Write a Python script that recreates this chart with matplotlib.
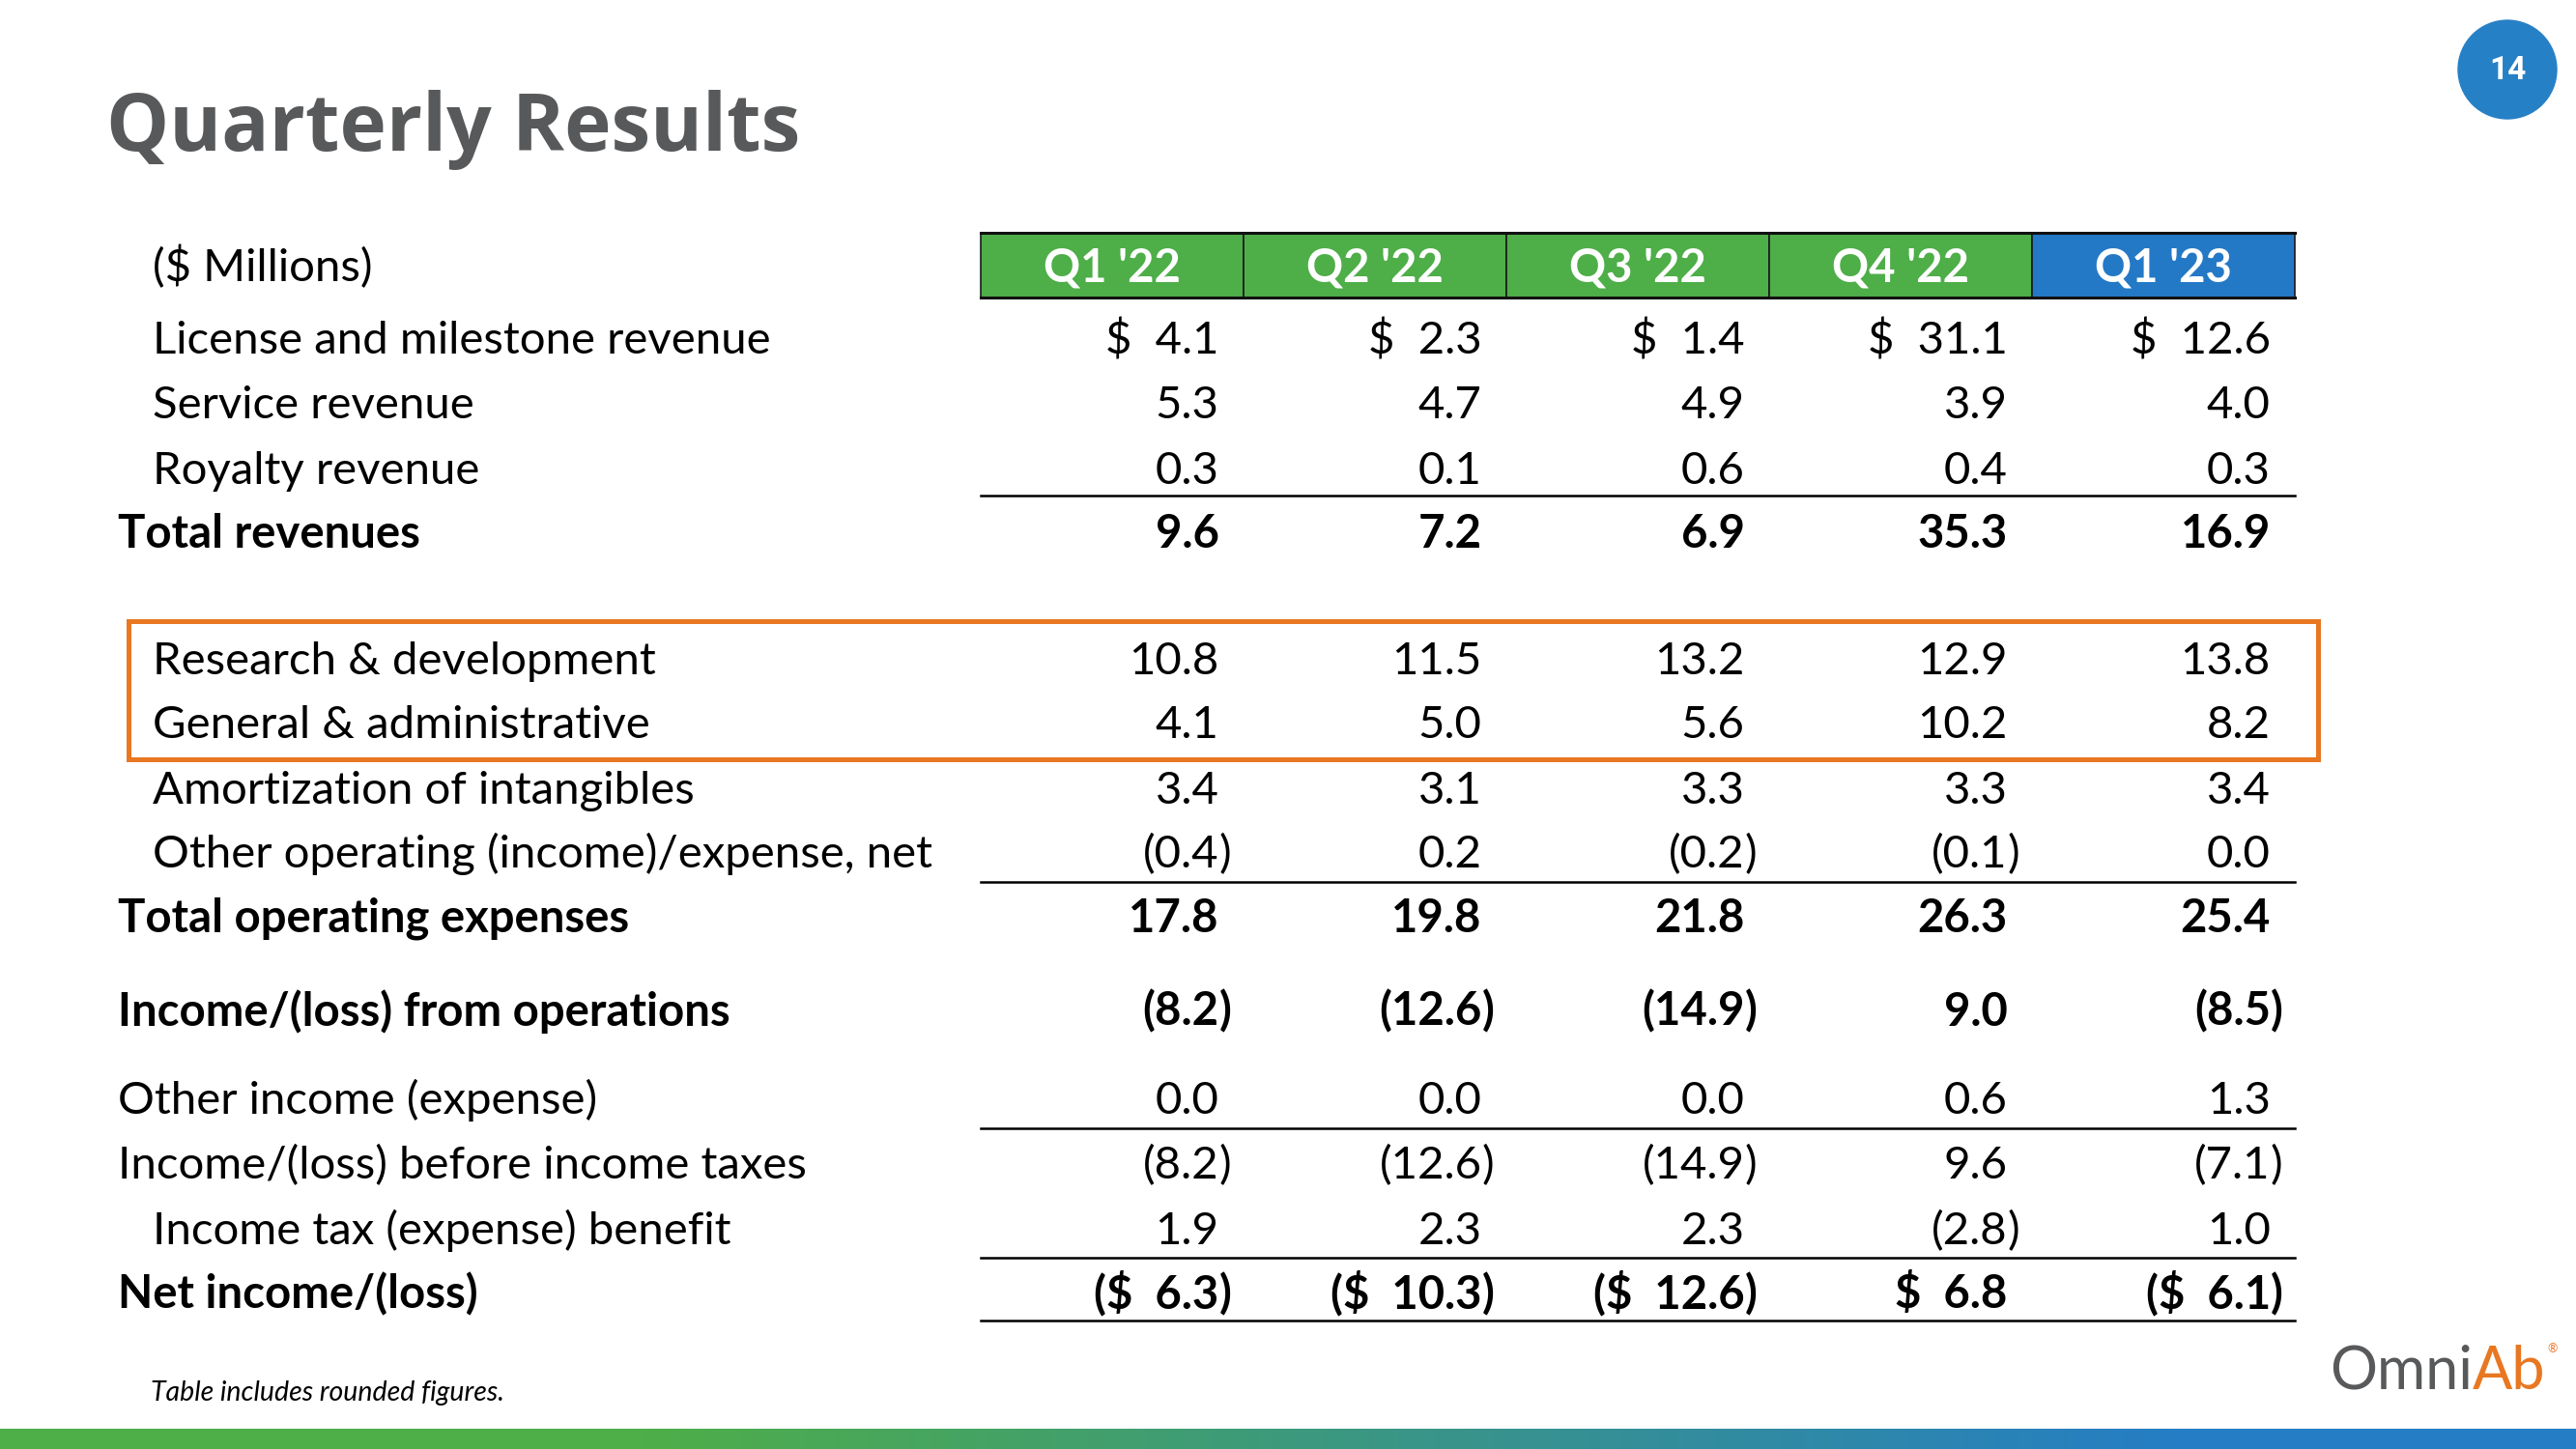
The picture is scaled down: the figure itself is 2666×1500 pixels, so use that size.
import matplotlib
matplotlib.use("Agg")
import matplotlib.pyplot as plt
from matplotlib.patches import Rectangle, Circle
import numpy as np

# ---------------- data ----------------
quarters = ["Q1 '22", "Q2 '22", "Q3 '22", "Q4 '22", "Q1 '23"]
row_labels = [
    "License and milestone revenue",
    "Service revenue",
    "Royalty revenue",
    "Total revenues",
    "Research & development",
    "General & administrative",
    "Amortization of intangibles",
    "Other operating (income)/expense, net",
    "Total operating expenses",
    "Income/(loss) from operations",
    "Other income (expense)",
    "Income/(loss) before income taxes",
    "Income tax (expense) benefit",
    "Net income/(loss)",
]
license_rev = [4.1, 2.3, 1.4, 31.1, 12.6]
service_rev = [5.3, 4.7, 4.9, 3.9, 4.0]
royalty_rev = [0.3, 0.1, 0.6, 0.4, 0.3]
total_rev = [9.6, 7.2, 6.9, 35.3, 16.9]
rnd = [10.8, 11.5, 13.2, 12.9, 13.8]
gna = [4.1, 5.0, 5.6, 10.2, 8.2]
amort = [3.4, 3.1, 3.3, 3.3, 3.4]
other_opex = [-0.4, 0.2, -0.2, -0.1, 0.0]
total_opex = [17.8, 19.8, 21.8, 26.3, 25.4]
ops_income = [-8.2, -12.6, -14.9, 9.0, -8.5]
other_income = [0.0, 0.0, 0.0, 0.6, 1.3]
pretax_income = [-8.2, -12.6, -14.9, 9.6, -7.1]
income_tax = [1.9, 2.3, 2.3, -2.8, 1.0]
net_income = [-6.3, -10.3, -12.6, 6.8, -6.1]

row_values = [license_rev, service_rev, royalty_rev, total_rev, rnd, gna, amort,
              other_opex, total_opex, ops_income, other_income, pretax_income,
              income_tax, net_income]
row_bold = [False, False, False, True, False, False, False, False, True, True,
            False, False, False, True]
row_indent = [True, True, True, False, True, True, True, True, False, False,
              False, False, True, False]
row_dollar = [True, False, False, False, False, False, False, False, False, False,
              False, False, False, True]

# ---------------- layout (pixel space) ----------------
W, H = 2666, 1500
fig = plt.figure(figsize=(W / 100, H / 100), dpi=100)
ax = fig.add_axes([0, 0, 1, 1])
ax.set_xlim(0, W)
ax.set_ylim(H, 0)
ax.axis("off")

BODY = "Lato"
FS = 34
S = 2666 / 1568.0

row_centers_small = [206, 245, 285, 324, 401, 440, 480, 519, 558, 615, 669, 708, 748, 787]
row_base = [c * S + 16 for c in row_centers_small]

col_edges = [597 * S + i * 160 * S for i in range(6)]
x_label_in = 93 * S
x_label_out = 72 * S

# title
ax.text(110, 156, "Quarterly Results", fontsize=59, fontweight="bold",
        family="Open Sans", color="#58595B", ha="left", va="baseline")

# page number
ax.add_patch(Circle((2595, 72), 51, color="#2680C6", zorder=3))
ax.text(2595, 73, "14", fontsize=24, fontweight="bold", family="Roboto",
        color="white", ha="center", va="center", zorder=4)

# header
hy0, hy1 = 142 * S, 181 * S
for i, q in enumerate(quarters):
    c = "#2479C6" if i == len(quarters) - 1 else "#4EAE48"
    ax.add_patch(Rectangle((col_edges[i], hy0), col_edges[i + 1] - col_edges[i], hy1 - hy0,
                           facecolor=c, edgecolor="#1a1a1a", lw=1.2, zorder=2))
    ax.text((col_edges[i] + col_edges[i + 1]) / 2, 162 * S + 16, q, fontsize=FS,
            fontweight="bold", family=BODY, color="white", ha="center", va="baseline", zorder=3)
ax.plot([col_edges[0], col_edges[-1]], [hy0, hy0], color="#111111", lw=2.2, zorder=3)
ax.plot([col_edges[0], col_edges[-1]], [hy1, hy1], color="#111111", lw=2.2, zorder=3)
ax.text(x_label_in, 162 * S + 16, "($ Millions)", fontsize=FS, family=BODY,
        color="black", ha="left", va="baseline")

# rows
for r, lab in enumerate(row_labels):
    fw = "bold" if row_bold[r] else "normal"
    xl = x_label_in if row_indent[r] else x_label_out
    yb = row_base[r]
    ax.text(xl, yb, lab, fontsize=FS, fontweight=fw, family=BODY, color="black",
            ha="left", va="baseline")
    for i, v in enumerate(row_values[r]):
        xr = col_edges[i + 1] - 15 * S
        num = f"{abs(v):.1f}"
        pre = "$  " if row_dollar[r] else ""
        if v < 0:
            ax.text(xr, yb, "(" + pre + num, fontsize=FS, fontweight=fw, family=BODY,
                    color="black", ha="right", va="baseline")
            ax.text(xr, yb, ")", fontsize=FS, fontweight=fw, family=BODY,
                    color="black", ha="left", va="baseline")
        else:
            ax.text(xr, yb, pre + num, fontsize=FS, fontweight=fw, family=BODY,
                    color="black", ha="right", va="baseline")

# rules
for ys in [302, 537, 687, 766, 804]:
    ax.plot([col_edges[0], col_edges[-1]], [ys * S, ys * S], color="black", lw=1.8)

# orange highlight box
ax.add_patch(Rectangle((78 * S, 378 * S), (1411 - 78) * S, (462 - 378) * S,
                       fill=False, edgecolor="#E87722", lw=3.6, zorder=4))

# footnote
ax.text(92 * S, 853 * S, "Table includes rounded figures.", fontsize=20.5, style="italic",
        family=BODY, color="black", ha="left", va="baseline")

# logo
fig.canvas.draw()
rend = fig.canvas.get_renderer()
t1 = ax.text(2411, 1438, "Omni", fontsize=44, fontweight="normal", family=BODY,
             color="#58595B", ha="left", va="baseline")
bb = t1.get_window_extent(renderer=rend)
x_end = ax.transData.inverted().transform((bb.x1, bb.y0))[0]
t2 = ax.text(x_end, 1438, "Ab", fontsize=44, fontweight="normal", family=BODY,
             color="#E87722", ha="left", va="baseline")
bb2 = t2.get_window_extent(renderer=rend)
x_end2 = ax.transData.inverted().transform((bb2.x1, bb2.y0))[0]
ax.text(x_end2 + 2, 1400, "®", fontsize=9, family=BODY, color="#E87722",
        ha="left", va="baseline")

# bottom gradient bar
grad = np.linspace(0, 1, 512)
c0 = np.array([0x4E, 0xAE, 0x48]) / 255
c1 = np.array([0x25, 0x7D, 0xC6]) / 255
t = np.clip((grad - 0.25) / 0.6, 0, 1)
img = (c0[None, :] * (1 - t[:, None]) + c1[None, :] * t[:, None])[None, :, :]
ax.imshow(img, extent=[0, W, H, 1479], aspect="auto", zorder=1)
ax.set_xlim(0, W)
ax.set_ylim(H, 0)

fig.savefig("out.png", dpi=100)
